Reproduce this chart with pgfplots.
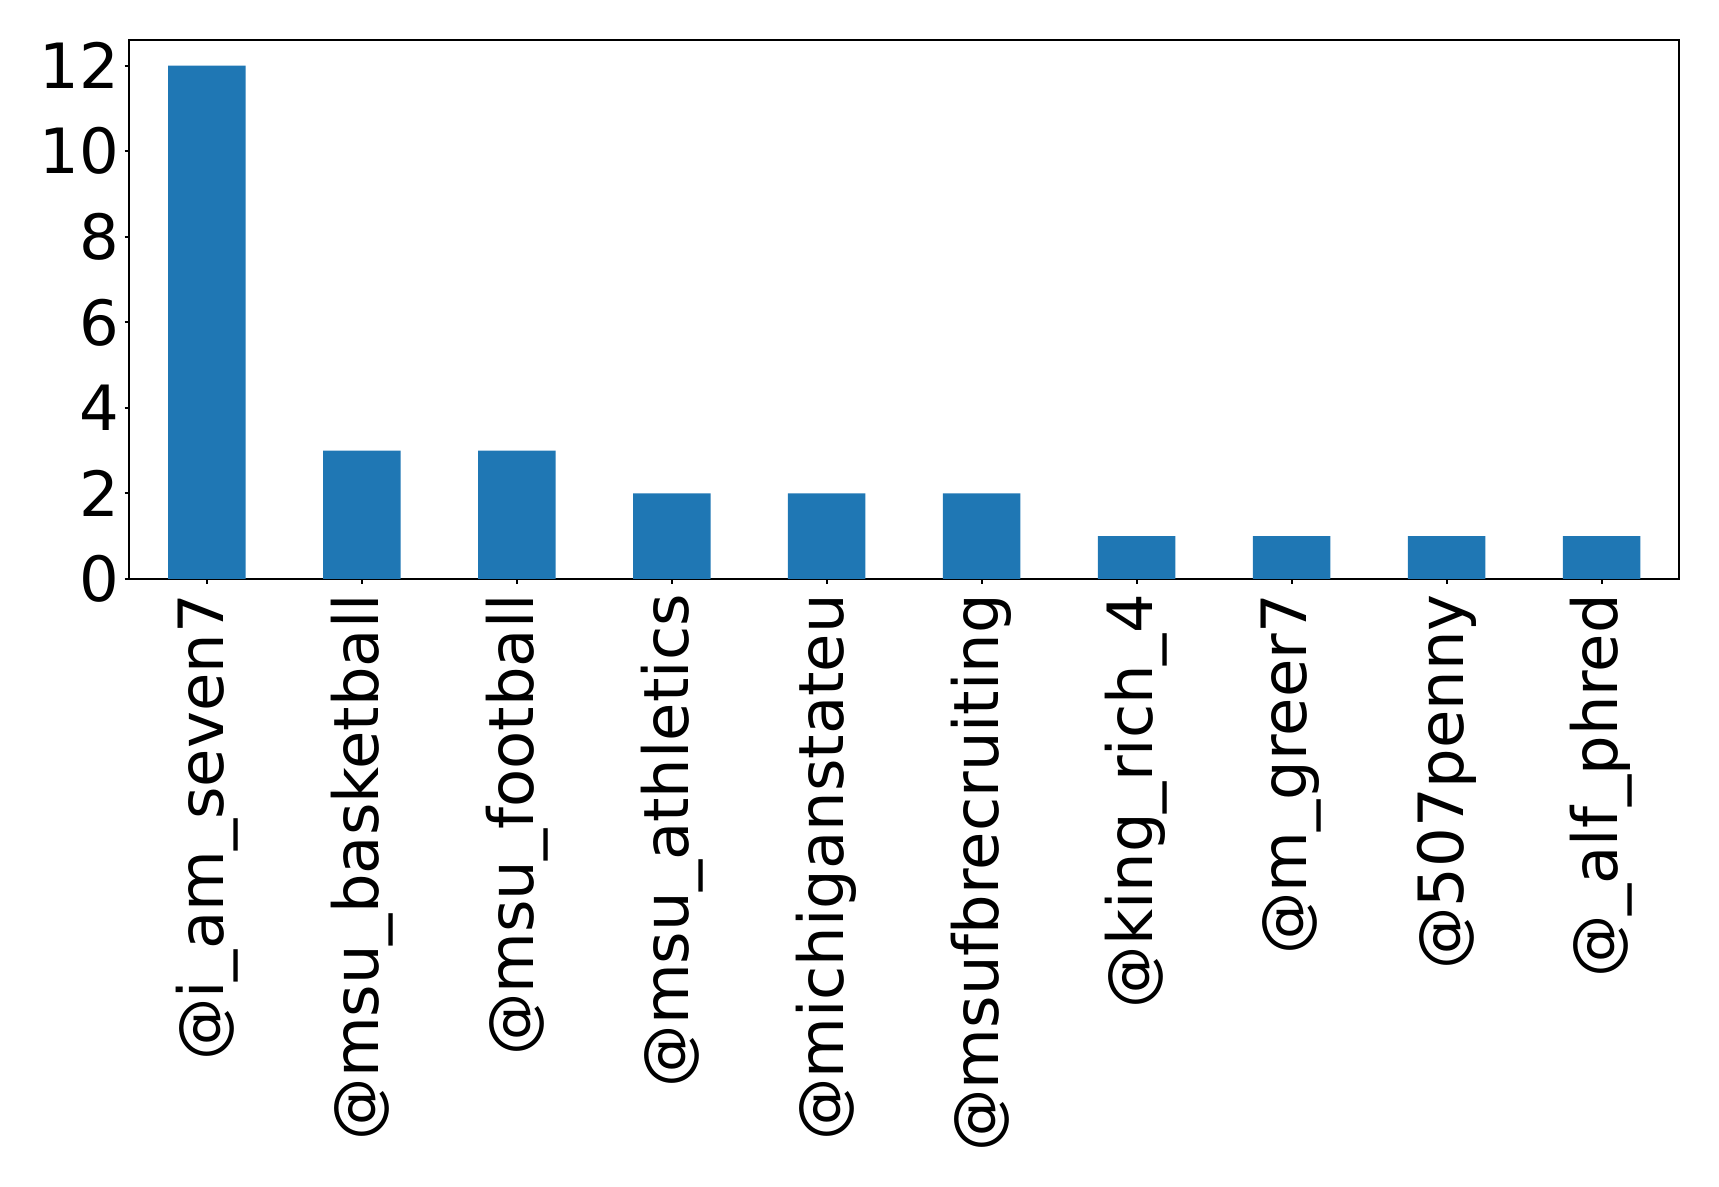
\documentclass[border=0pt]{standalone}
\usepackage{pgfplots}
\pgfplotsset{compat=1.18}
\usepackage{fontspec}
\setmainfont{DejaVu Sans}
\definecolor{mplblue}{HTML}{1F77B4}
\begin{document}
\begin{tikzpicture}
\begin{axis}[
  scale only axis,
  width=387.4pt, height=134.75pt,
  xmin=-0.5, xmax=9.5,
  ymin=0, ymax=12.6,
  xtick={0,1,2,3,4,5,6,7,8,9},
  xticklabels={@i\_am\_seven7,@msu\_basketball,@msu\_football,@msu\_athletics,@michiganstateu,@msufbrecruiting,@king\_rich\_4,@m\_greer7,@507penny,@\_alf\_phred},
  ytick={0,2,4,6,8,10,12},
  tick align=outside,
  xtick pos=bottom, ytick pos=left,
  major tick length=1.2pt,
  tick style={black, line width=0.5pt},
  axis line style={black, line width=0.5pt},
  /pgf/number format/assume math mode=true,
  ticklabel style={font=\fontsize{15.6}{18}\selectfont},
  xticklabel style={rotate=90, anchor=east, inner ysep=0pt, inner xsep=2.6pt, outer sep=0pt},
  yticklabel style={inner ysep=0pt, inner xsep=1.4pt, outer sep=0pt},
]
\addplot[ybar, bar width=0.5, fill=mplblue, draw=none] coordinates {
  (0,12) (1,3) (2,3) (3,2) (4,2) (5,2) (6,1) (7,1) (8,1) (9,1)
};
\end{axis}
\pgfresetboundingbox
\path ([xshift=-32.35pt,yshift=-151.9pt]current axis.south west) rectangle ([xshift=10pt,yshift=10pt]current axis.north east);
\end{tikzpicture}
\end{document}
